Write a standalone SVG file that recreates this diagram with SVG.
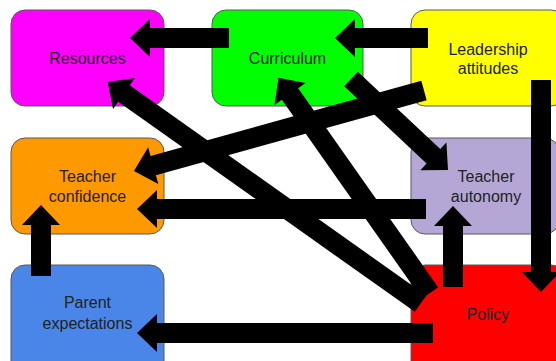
<svg xmlns="http://www.w3.org/2000/svg" width="556" height="361" viewBox="0 0 556 361">
  <style>
    .box { stroke: #595959; stroke-width: 1; }
    .label { font-family: "Liberation Sans", Arial, sans-serif; font-size: 16px; fill: #222; text-anchor: middle; }
    .arrow { fill: #000; stroke: none; }
  </style>
  <rect width="556" height="361" fill="#fff"/>

  <g id="node-resources">
    <rect class="box" x="11" y="10" width="153" height="96" rx="14" fill="#ff00ff"/>
    <text class="label" x="87.5" y="64">Resources</text>
  </g>
  <g id="node-curriculum">
    <rect class="box" x="212" y="10" width="151" height="96" rx="14" fill="#00ff00"/>
    <text class="label" x="287.5" y="64">Curriculum</text>
  </g>
  <g id="node-leadership">
    <rect class="box" x="411" y="10" width="154" height="96" rx="14" fill="#ffff00"/>
    <text class="label" x="488" y="55">Leadership</text>
    <text class="label" x="488" y="74">attitudes</text>
  </g>
  <g id="node-confidence">
    <rect class="box" x="11" y="138" width="153" height="96" rx="14" fill="#ff9900"/>
    <text class="label" x="87.5" y="182">Teacher</text>
    <text class="label" x="87.5" y="202">confidence</text>
  </g>
  <g id="node-autonomy">
    <rect class="box" x="411" y="138" width="148" height="96" rx="14" fill="#b4a7d6"/>
    <text class="label" x="486" y="182">Teacher</text>
    <text class="label" x="486" y="202">autonomy</text>
  </g>
  <g id="node-parent">
    <rect class="box" x="11" y="265" width="153" height="110" rx="14" fill="#4a86e8"/>
    <text class="label" x="87.5" y="308">Parent</text>
    <text class="label" x="87.5" y="329">expectations</text>
  </g>
  <g id="node-policy">
    <rect class="box" x="411" y="265" width="154" height="110" rx="14" fill="#ff0000"/>
    <text class="label" x="488" y="320">Policy</text>
  </g>

  <!-- block arrows: drawn along +x from the tail (0,0) to the tip (L,0), then placed -->
  <g id="connectors">
    <polygon class="arrow" transform="translate(229,38) rotate(180)" points="0,-10 79,-10 79,-19 99,0 79,19 79,10 0,10"/>
    <polygon class="arrow" transform="translate(428,38) rotate(180)" points="0,-10 73,-10 73,-19 93,0 73,19 73,10 0,10"/>
    <polygon class="arrow" transform="translate(541,80) rotate(90)" points="0,-10 192,-10 192,-19 212,0 192,19 192,10 0,10"/>
    <polygon class="arrow" transform="translate(453,287) rotate(-90)" points="0,-10 61,-10 61,-19 81,0 61,19 61,10 0,10"/>
    <polygon class="arrow" transform="translate(426,209) rotate(180)" points="0,-10 269,-10 269,-19 289,0 269,19 269,10 0,10"/>
    <polygon class="arrow" transform="translate(433,333) rotate(180)" points="0,-10 276,-10 276,-19 296,0 276,19 276,10 0,10"/>
    <polygon class="arrow" transform="translate(41,276) rotate(-90)" points="0,-10 51,-10 51,-19 71,0 51,19 51,10 0,10"/>
    <polygon class="arrow" transform="translate(424,90.5) rotate(164.49)" points="0,-10 281,-10 281,-19 301,0 281,19 281,10 0,10"/>
    <polygon class="arrow" transform="translate(420.6,303.7) rotate(-144.67)" points="0,-10 363.5,-10 363.5,-19 383.5,0 363.5,19 363.5,10 0,10"/>
    <polygon class="arrow" transform="translate(430,293) rotate(-125.12)" points="0,-10 243.3,-10 243.3,-19 263.3,0 243.3,19 243.3,10 0,10"/>
    <polygon class="arrow" transform="translate(351,79) rotate(43.17)" points="0,-10 113,-10 113,-19 133,0 113,19 113,10 0,10"/>
  </g>
</svg>
